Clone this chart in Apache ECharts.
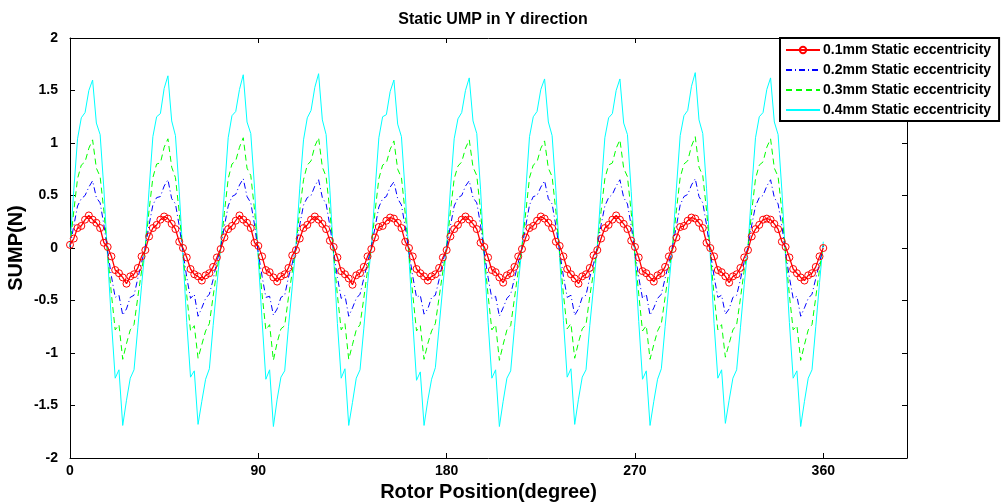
<!DOCTYPE html>
<html>
<head>
<meta charset="utf-8">
<script src="https://cdn.jsdelivr.net/npm/echarts@6/dist/echarts.min.js"></script>
<style>
  html, body { margin: 0; padding: 0; background: #fff; }
  #chart { width: 1004px; height: 504px; }
</style>
</head>
<body>
<div id="chart"></div>
<script>
// rotor position sampled every 1.8 degrees, 0..360
const step = 1.8
const xTicks = [0, 90, 180, 270, 360]

const seriesNames = [
  '0.1mm Static eccentricity',
  '0.2mm Static eccentricity',
  '0.3mm Static eccentricity',
  '0.4mm Static eccentricity'
]

// 0.1mm - one line per 36 degree period
const ump01 = [
  0.03, 0.09, 0.19, 0.21, 0.27, 0.31, 0.27, 0.24, 0.19, 0.05, 0.01, -0.08, -0.21, -0.24, -0.28, -0.34, -0.27, -0.25, -0.19, -0.08,
  -0.02, 0.11, 0.19, 0.22, 0.27, 0.30, 0.28, 0.23, 0.18, 0.06, 0.00, -0.09, -0.20, -0.25, -0.27, -0.31, -0.26, -0.24, -0.18, -0.09,
  -0.01, 0.10, 0.18, 0.21, 0.26, 0.31, 0.27, 0.24, 0.19, 0.05, 0.02, -0.08, -0.21, -0.23, -0.28, -0.32, -0.27, -0.25, -0.19, -0.07,
  -0.02, 0.09, 0.19, 0.22, 0.27, 0.30, 0.27, 0.23, 0.18, 0.07, 0.01, -0.09, -0.22, -0.25, -0.29, -0.35, -0.26, -0.24, -0.18, -0.08,
  -0.01, 0.10, 0.20, 0.21, 0.26, 0.29, 0.28, 0.24, 0.19, 0.06, 0.00, -0.08, -0.20, -0.24, -0.27, -0.31, -0.27, -0.25, -0.19, -0.09,
  -0.02, 0.11, 0.18, 0.22, 0.27, 0.30, 0.27, 0.23, 0.18, 0.05, 0.01, -0.09, -0.21, -0.23, -0.28, -0.33, -0.26, -0.24, -0.18, -0.08,
  -0.01, 0.10, 0.19, 0.21, 0.26, 0.30, 0.28, 0.24, 0.19, 0.06, 0.02, -0.08, -0.20, -0.25, -0.29, -0.34, -0.27, -0.25, -0.19, -0.07,
  -0.02, 0.09, 0.19, 0.22, 0.27, 0.31, 0.27, 0.23, 0.18, 0.07, 0.01, -0.09, -0.22, -0.24, -0.28, -0.32, -0.26, -0.24, -0.18, -0.08,
  -0.01, 0.10, 0.20, 0.21, 0.26, 0.29, 0.28, 0.24, 0.19, 0.05, 0.00, -0.08, -0.21, -0.23, -0.27, -0.33, -0.27, -0.25, -0.19, -0.09,
  -0.02, 0.11, 0.18, 0.22, 0.27, 0.28, 0.27, 0.23, 0.18, 0.06, 0.01, -0.09, -0.20, -0.24, -0.28, -0.31, -0.26, -0.24, -0.18, -0.08,
  0.00
]

const ump02 = [
  0.01, 0.21, 0.40, 0.47, 0.50, 0.58, 0.64, 0.48, 0.43, 0.22, -0.03, -0.27, -0.47, -0.45, -0.64, -0.58, -0.47, -0.45, -0.29, -0.14,
  0.01, 0.22, 0.41, 0.48, 0.49, 0.59, 0.65, 0.47, 0.42, 0.21, -0.04, -0.28, -0.48, -0.44, -0.65, -0.57, -0.48, -0.44, -0.30, -0.13,
  0.00, 0.21, 0.40, 0.49, 0.51, 0.60, 0.66, 0.49, 0.43, 0.22, -0.05, -0.27, -0.47, -0.46, -0.64, -0.58, -0.47, -0.45, -0.28, -0.15,
  0.02, 0.22, 0.41, 0.48, 0.50, 0.59, 0.65, 0.48, 0.42, 0.21, -0.03, -0.28, -0.48, -0.45, -0.65, -0.57, -0.48, -0.44, -0.29, -0.14,
  0.01, 0.20, 0.39, 0.47, 0.49, 0.58, 0.63, 0.47, 0.41, 0.20, -0.04, -0.27, -0.47, -0.45, -0.63, -0.58, -0.47, -0.45, -0.30, -0.13,
  0.01, 0.21, 0.40, 0.48, 0.50, 0.59, 0.64, 0.48, 0.43, 0.22, -0.05, -0.28, -0.48, -0.46, -0.65, -0.57, -0.48, -0.44, -0.29, -0.14,
  0.00, 0.21, 0.41, 0.49, 0.50, 0.58, 0.64, 0.47, 0.42, 0.21, -0.03, -0.27, -0.47, -0.45, -0.64, -0.58, -0.47, -0.45, -0.28, -0.15,
  0.01, 0.22, 0.40, 0.48, 0.51, 0.59, 0.65, 0.48, 0.42, 0.21, -0.04, -0.28, -0.48, -0.44, -0.64, -0.57, -0.48, -0.44, -0.29, -0.14,
  0.02, 0.21, 0.41, 0.49, 0.51, 0.60, 0.66, 0.49, 0.43, 0.22, -0.04, -0.27, -0.47, -0.45, -0.63, -0.58, -0.47, -0.45, -0.30, -0.13,
  0.01, 0.22, 0.40, 0.48, 0.50, 0.59, 0.65, 0.48, 0.42, 0.21, -0.05, -0.28, -0.48, -0.46, -0.65, -0.57, -0.48, -0.44, -0.29, -0.14,
  0.02
]

const ump03 = [
  0.01, 0.35, 0.66, 0.79, 0.82, 0.95, 1.03, 0.76, 0.68, 0.35, -0.06, -0.44, -0.78, -0.73, -1.06, -0.91, -0.78, -0.73, -0.47, -0.22,
  0.01, 0.36, 0.67, 0.80, 0.81, 0.96, 1.04, 0.77, 0.67, 0.34, -0.05, -0.45, -0.79, -0.74, -1.05, -0.92, -0.79, -0.72, -0.46, -0.21,
  0.00, 0.34, 0.66, 0.80, 0.83, 0.96, 1.05, 0.76, 0.69, 0.36, -0.07, -0.44, -0.78, -0.73, -1.07, -0.90, -0.77, -0.74, -0.47, -0.23,
  0.02, 0.36, 0.65, 0.79, 0.83, 0.97, 1.05, 0.77, 0.68, 0.35, -0.06, -0.45, -0.78, -0.72, -1.06, -0.92, -0.78, -0.73, -0.48, -0.21,
  0.00, 0.35, 0.66, 0.79, 0.81, 0.94, 1.02, 0.75, 0.67, 0.33, -0.06, -0.44, -0.79, -0.74, -1.06, -0.91, -0.79, -0.72, -0.47, -0.22,
  0.01, 0.35, 0.66, 0.78, 0.82, 0.95, 1.03, 0.77, 0.69, 0.35, -0.07, -0.45, -0.78, -0.73, -1.07, -0.92, -0.78, -0.74, -0.48, -0.22,
  0.01, 0.34, 0.67, 0.79, 0.82, 0.95, 1.02, 0.76, 0.68, 0.35, -0.05, -0.44, -0.77, -0.72, -1.05, -0.90, -0.77, -0.73, -0.46, -0.23,
  0.01, 0.35, 0.66, 0.79, 0.81, 0.95, 1.03, 0.76, 0.68, 0.34, -0.07, -0.44, -0.79, -0.74, -1.06, -0.92, -0.79, -0.72, -0.47, -0.22,
  0.02, 0.36, 0.67, 0.80, 0.83, 0.97, 1.06, 0.77, 0.69, 0.36, -0.05, -0.45, -0.78, -0.73, -1.04, -0.91, -0.78, -0.73, -0.48, -0.21,
  0.01, 0.35, 0.66, 0.79, 0.82, 0.96, 1.04, 0.76, 0.68, 0.35, -0.06, -0.45, -0.78, -0.74, -1.07, -0.92, -0.78, -0.73, -0.47, -0.20,
  0.03
]

const ump04 = [
  0.02, 0.55, 1.04, 1.24, 1.29, 1.50, 1.60, 1.19, 1.08, 0.56, -0.10, -0.70, -1.24, -1.16, -1.69, -1.45, -1.24, -1.16, -0.76, -0.36,
  0.02, 0.56, 1.06, 1.25, 1.28, 1.52, 1.64, 1.21, 1.07, 0.54, -0.08, -0.71, -1.23, -1.17, -1.68, -1.46, -1.25, -1.15, -0.74, -0.35,
  0.01, 0.54, 1.05, 1.26, 1.30, 1.51, 1.65, 1.20, 1.09, 0.57, -0.11, -0.69, -1.25, -1.16, -1.70, -1.44, -1.23, -1.17, -0.75, -0.37,
  0.03, 0.57, 1.03, 1.24, 1.31, 1.53, 1.66, 1.22, 1.08, 0.55, -0.09, -0.72, -1.24, -1.15, -1.69, -1.47, -1.24, -1.16, -0.77, -0.34,
  0.00, 0.55, 1.05, 1.25, 1.27, 1.49, 1.60, 1.18, 1.06, 0.53, -0.10, -0.70, -1.26, -1.18, -1.69, -1.45, -1.25, -1.14, -0.75, -0.36,
  0.02, 0.56, 1.04, 1.23, 1.29, 1.50, 1.62, 1.21, 1.09, 0.56, -0.12, -0.71, -1.24, -1.16, -1.70, -1.46, -1.24, -1.17, -0.76, -0.35,
  0.01, 0.54, 1.06, 1.25, 1.30, 1.51, 1.61, 1.20, 1.07, 0.55, -0.09, -0.69, -1.23, -1.15, -1.68, -1.44, -1.23, -1.16, -0.74, -0.37,
  0.02, 0.55, 1.05, 1.24, 1.28, 1.50, 1.61, 1.19, 1.08, 0.54, -0.11, -0.70, -1.25, -1.17, -1.69, -1.46, -1.25, -1.15, -0.75, -0.36,
  0.03, 0.57, 1.07, 1.26, 1.31, 1.54, 1.67, 1.22, 1.09, 0.57, -0.08, -0.72, -1.24, -1.16, -1.67, -1.45, -1.24, -1.16, -0.76, -0.35,
  0.01, 0.56, 1.05, 1.25, 1.29, 1.51, 1.62, 1.20, 1.08, 0.55, -0.10, -0.71, -1.24, -1.17, -1.70, -1.46, -1.24, -1.16, -0.75, -0.33,
  0.06
]

const font = 'Liberation Sans, Arial, sans-serif'

const chart = echarts.init(document.getElementById('chart'), null, { renderer: 'canvas' })

const toPairs = vals => vals.map((v, i) => [+(i * step).toFixed(1), v])

const axisCommon = {
  axisLine: { onZero: false, lineStyle: { color: '#000', width: 1 } },
  axisTick: { inside: true, length: 5, lineStyle: { color: '#000' } },
  splitLine: { show: false }
}

const option = {
  animation: false,
  backgroundColor: '#fff',
  title: {
    text: 'Static UMP in Y direction',
    left: 488,
    textAlign: 'center',
    top: 7,
    textStyle: { fontFamily: font, fontSize: 16, fontWeight: 'bold', color: '#000' }
  },
  legend: {
    orient: 'vertical',
    left: 780,
    top: 38,
    padding: [5, 8, 4, 5],
    itemGap: 6,
    itemWidth: 34,
    itemHeight: 8,
    backgroundColor: '#fff',
    borderColor: '#000',
    borderWidth: 2,
    borderRadius: 0,
    textStyle: { fontFamily: font, fontSize: 14, fontWeight: 'bold', color: '#000', padding: [0, 0, 0, -2] },
    data: [
      { name: seriesNames[0] },
      { name: seriesNames[1], itemStyle: { opacity: 0 } },
      { name: seriesNames[2], itemStyle: { opacity: 0 } },
      { name: seriesNames[3], itemStyle: { opacity: 0 } }
    ]
  },
  grid: { left: 70, right: 97, top: 38, bottom: 46, containLabel: false, outerBoundsMode: 'none' },
  xAxis: [{
    ...axisCommon,
    type: 'value', min: 0, max: 400, interval: 90, position: 'bottom',
    axisLabel: { showMaxLabel: false, margin: 6, fontFamily: font, fontSize: 14, fontWeight: 'bold', color: '#000' },
    name: 'Rotor Position(degree)', nameLocation: 'middle', nameGap: 24, nameMoveOverlap: false,
    nameTextStyle: { fontFamily: font, fontSize: 20, fontWeight: 'bold', color: '#000' }
  }, {
    ...axisCommon,
    type: 'value', min: 0, max: 400, interval: 90, position: 'top',
    axisLabel: { show: false }
  }],
  yAxis: [{
    ...axisCommon,
    type: 'value', min: -2, max: 2, interval: 0.5, position: 'left',
    axisLabel: { margin: 12, fontFamily: font, fontSize: 14, fontWeight: 'bold', color: '#000' },
    name: 'SUMP(N)', nameLocation: 'middle', nameGap: 44, nameRotate: 90, nameMoveOverlap: false,
    nameTextStyle: { fontFamily: font, fontSize: 20, fontWeight: 'bold', color: '#000' }
  }, {
    ...axisCommon,
    type: 'value', min: -2, max: 2, interval: 0.5, position: 'right',
    axisLabel: { show: false }
  }],
  series: [{
    name: seriesNames[0], type: 'line', data: toPairs(ump01),
    symbol: 'circle', symbolSize: 7, z: 5,
    lineStyle: { color: '#ff0000', width: 1.3 },
    itemStyle: { color: 'rgba(255,255,255,0)', borderColor: '#ff0000', borderWidth: 1 }
  }, {
    name: seriesNames[1], type: 'line', data: toPairs(ump02),
    symbol: 'none', z: 4,
    lineStyle: { color: '#0000ff', width: 1, type: [6, 3, 1, 3] },
    itemStyle: { color: '#0000ff' }
  }, {
    name: seriesNames[2], type: 'line', data: toPairs(ump03),
    symbol: 'none', z: 3,
    lineStyle: { color: '#00ff00', width: 1, type: [6, 4] },
    itemStyle: { color: '#00ff00' }
  }, {
    name: seriesNames[3], type: 'line', data: toPairs(ump04),
    symbol: 'none', z: 2,
    lineStyle: { color: '#00ffff', width: 1 },
    itemStyle: { color: '#00ffff' }
  }]
}

chart.setOption(option)
</script>
</body>
</html>
